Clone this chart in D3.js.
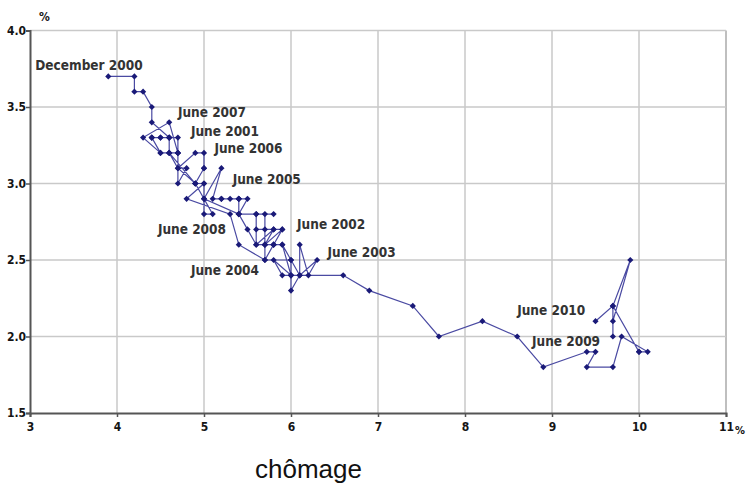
<!DOCTYPE html>
<html>
<head>
<meta charset="utf-8">
<script src="https://cdn.jsdelivr.net/npm/d3@7/dist/d3.min.js"></script>
<style>
  body { margin: 0; background: #fff; }
  svg { display: block; }
  .tick-label { font-family: "DejaVu Sans Condensed", "DejaVu Sans", sans-serif; font-weight: bold; font-size: 12px; fill: #151515; }
  .note { font-family: "DejaVu Sans Condensed", "DejaVu Sans", sans-serif; font-weight: bold; font-size: 13.5px; fill: #333; }
</style>
</head>
<body>
<div id="chart"></div>
<script>
// unemployment rate (x) and job openings rate (y), monthly, Dec 2000 -> Jun 2010
var unemployment = [
  3.9,
  4.2, 4.2, 4.3, 4.4, 4.4, 4.6, 4.6, 4.9, 5.0, 5.4, 5.6, 5.8,
  5.7, 5.7, 5.7, 5.9, 5.8, 5.9, 5.8, 5.7, 5.7, 5.8, 5.9, 6.0,
  5.8, 5.9, 6.0, 6.0, 6.1, 6.3, 6.2, 6.1, 6.1, 6.0, 5.9, 5.8,
  5.7, 5.6, 5.8, 5.6, 5.6, 5.6, 5.5, 5.4, 5.4, 5.5, 5.4, 5.4,
  5.3, 5.4, 5.2, 5.2, 5.1, 5.2, 5.0, 4.9, 5.1, 5.0, 5.0, 4.9,
  4.7, 4.8, 4.7, 4.7, 4.6, 4.6, 4.7, 4.7, 4.5, 4.4, 4.5, 4.4,
  4.6, 4.5, 4.4, 4.5, 4.3, 4.6, 4.7, 4.6, 4.7, 4.9, 5.0, 5.0,
  5.0, 4.9, 5.0, 4.8, 5.3, 5.4, 5.7, 6.0, 6.0, 6.6, 6.9, 7.4,
  7.7, 8.2, 8.6, 8.9, 9.4, 9.5, 9.4, 9.7, 9.8, 10.1, 10.0, 10.0,
  9.7, 9.7, 9.7, 9.9, 9.7, 9.5
];
var openings = [
  3.7,
  3.7, 3.6, 3.6, 3.5, 3.4, 3.3, 3.2, 3.0, 2.9, 2.8, 2.8, 2.8,
  2.8, 2.7, 2.6, 2.7, 2.6, 2.7, 2.7, 2.6, 2.5, 2.6, 2.6, 2.4,
  2.5, 2.4, 2.4, 2.3, 2.4, 2.5, 2.4, 2.6, 2.4, 2.5, 2.6, 2.6,
  2.6, 2.6, 2.7, 2.7, 2.8, 2.6, 2.7, 2.8, 2.9, 2.9, 2.8, 2.9,
  2.9, 2.9, 2.9, 2.9, 2.9, 3.1, 2.9, 3.0, 2.8, 2.8, 3.0, 3.0,
  3.1, 3.1, 3.0, 3.2, 3.2, 3.3, 3.3, 3.2, 3.2, 3.3, 3.3, 3.3,
  3.3, 3.3, 3.3, 3.2, 3.3, 3.4, 3.2, 3.2, 3.1, 3.2, 3.2, 3.1,
  3.1, 3.0, 3.0, 2.9, 2.8, 2.6, 2.5, 2.5, 2.4, 2.4, 2.3, 2.2,
  2.0, 2.1, 2.0, 1.8, 1.9, 1.9, 1.8, 1.8, 2.0, 1.9, 1.9, 1.9,
  2.2, 2.0, 2.1, 2.5, 2.2, 2.1
];
var xTicks = [3, 4, 5, 6, 7, 8, 9, 10, 11];
var yTicks = [1.5, 2.0, 2.5, 3.0, 3.5, 4.0];
var notes = ["December 2000", "June 2007", "June 2001", "June 2006", "June 2005", "June 2008",
             "June 2002", "June 2003", "June 2004", "June 2010", "June 2009"];
var noteX = [3.06, 4.70, 4.85, 5.12, 5.33, 4.47, 6.07, 6.42, 4.85, 8.60, 8.77];
var noteY = [3.74, 3.435, 3.31, 3.20, 3.00, 2.67, 2.70, 2.52, 2.40, 2.14, 1.94];

var width = 747, height = 486;
var svg = d3.select("#chart").append("svg")
    .attr("width", width)
    .attr("height", height);

var x = d3.scaleLinear().domain([3, 11]).range([30, 726]);
var y = d3.scaleLinear().domain([1.5, 4]).range([413, 30.5]);

// grid
svg.append("g").selectAll("line.v")
    .data(xTicks.slice(1))
    .enter().append("line")
    .attr("x1", function(d) { return x(d); })
    .attr("x2", function(d) { return x(d); })
    .attr("y1", y(4)).attr("y2", y(1.5))
    .attr("stroke", function(d) { return d == 11 ? "#aaa" : "#c9c9c9"; })
    .attr("stroke-width", 1.5);

svg.append("g").selectAll("line.h")
    .data(yTicks.slice(1))
    .enter().append("line")
    .attr("x1", x(3)).attr("x2", x(11))
    .attr("y1", function(d) { return y(d); })
    .attr("y2", function(d) { return y(d); })
    .attr("stroke", "#c9c9c9").attr("stroke-width", 1.5);

// axes
var xAxis = d3.axisBottom(x).tickValues(xTicks).tickSize(4).tickFormat(d3.format("d"));
var yAxis = d3.axisLeft(y).tickValues(yTicks).tickSize(4).tickFormat(d3.format(".1f"));

var gx = svg.append("g").attr("transform", "translate(0," + y(1.5) + ")").call(xAxis);
var gy = svg.append("g").attr("transform", "translate(" + x(3) + ",0)").call(yAxis);

[gx, gy].forEach(function(g) {
  g.select(".domain").attr("stroke", "#555").attr("stroke-width", 2);
  g.selectAll(".tick line").attr("stroke", "#555").attr("stroke-width", 1.5);
  g.selectAll(".tick text").attr("class", "tick-label").attr("fill", null);
});
gx.selectAll(".tick text").attr("dy", "0.95em");
gy.selectAll(".tick text").attr("x", -4).attr("dy", "0.3em");

svg.append("text").attr("class", "tick-label")
    .attr("x", 745).attr("y", y(1.5) + 21)
    .attr("text-anchor", "end")
    .style("font-size", "11px")
    .text("%");
svg.append("text").attr("class", "tick-label")
    .attr("x", 39).attr("y", 21)
    .text("%");

// path
var pts = unemployment.map(function(u, i) { return [u, openings[i]]; });

svg.append("path")
    .datum(pts)
    .attr("fill", "none")
    .attr("stroke", "#4a4aa2")
    .attr("stroke-width", 1.2)
    .attr("d", d3.line()
        .x(function(d) { return x(d[0]); })
        .y(function(d) { return y(d[1]); }));

var diamond = d3.symbol().type(d3.symbolSquare).size(19);
svg.append("g").selectAll("path")
    .data(pts)
    .enter().append("path")
    .attr("d", diamond)
    .attr("fill", "#1a1a78")
    .attr("transform", function(d) {
      return "translate(" + x(d[0]) + "," + y(d[1]) + ") rotate(45)";
    });

// annotations
svg.append("g").selectAll("text")
    .data(notes)
    .enter().append("text")
    .attr("class", "note")
    .attr("x", function(d, i) { return x(noteX[i]); })
    .attr("y", function(d, i) { return y(noteY[i]); })
    .text(function(d) { return d; });

svg.append("text")
    .attr("x", 255).attr("y", 478)
    .style("font-family", "Liberation Sans, Arial, sans-serif")
    .style("font-size", "26px")
    .attr("fill", "#111")
    .text("chômage");
</script>
</body>
</html>
